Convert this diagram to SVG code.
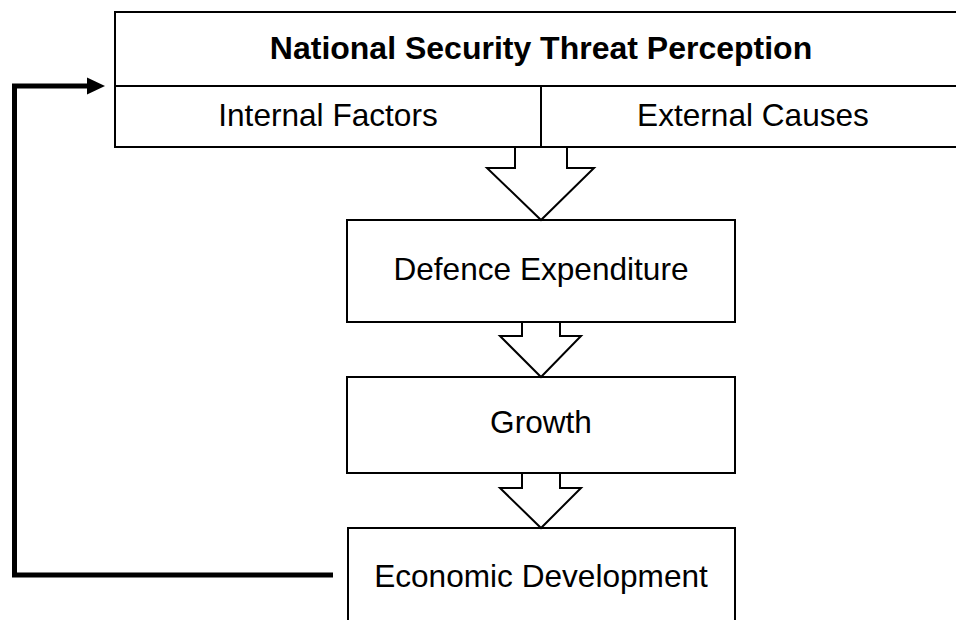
<svg xmlns="http://www.w3.org/2000/svg" width="956" height="620" viewBox="0 0 956 620">
<style>
.box{fill:#fff;stroke:#000;stroke-width:2}
.arr{fill:#fff;stroke:#000;stroke-width:2;stroke-linejoin:miter}
.t{font-family:"Liberation Sans",Arial,sans-serif;font-size:31.6px;fill:#000;text-anchor:middle}
.b{font-weight:bold;font-size:32px}
.fb{fill:none;stroke:#000;stroke-width:5}
</style>
<rect width="956" height="620" fill="#fff"/>
<g id="threat">
<rect class="box" x="115" y="12" width="852" height="135"/>
<line x1="115" y1="86" x2="967" y2="86" stroke="#000" stroke-width="2"/>
<line x1="541" y1="86" x2="541" y2="147" stroke="#000" stroke-width="2"/>
<text class="t b" x="541" y="59">National Security Threat Perception</text>
<text class="t" x="328" y="126">Internal Factors</text>
<text class="t" x="753" y="126">External Causes</text>
</g>
<g id="defence">
<rect class="box" x="347" y="220" width="388" height="102"/>
<text class="t" x="541" y="280">Defence Expenditure</text>
</g>
<g id="growth">
<rect class="box" x="347" y="377" width="388" height="96"/>
<text class="t" x="541" y="433">Growth</text>
</g>
<g id="economic">
<rect class="box" x="348" y="528" width="387" height="110"/>
<text class="t" x="541" y="587">Economic Development</text>
</g>
<g id="connectors">
<polygon class="arr" points="515,147 567,147 567,168 594,168 541,220 487,168 515,168"/>
<polygon class="arr" points="522,322 560,322 560,336 581,336 541,377 500,336 522,336"/>
<polygon class="arr" points="522,473 560,473 560,488 581,488 541,528 500,488 522,488"/>
<polyline class="fb" points="333,575 14.5,575 14.5,86 90,86"/>
<polygon points="87,77.5 105,86 87,94.5" fill="#000"/>
</g>
</svg>
